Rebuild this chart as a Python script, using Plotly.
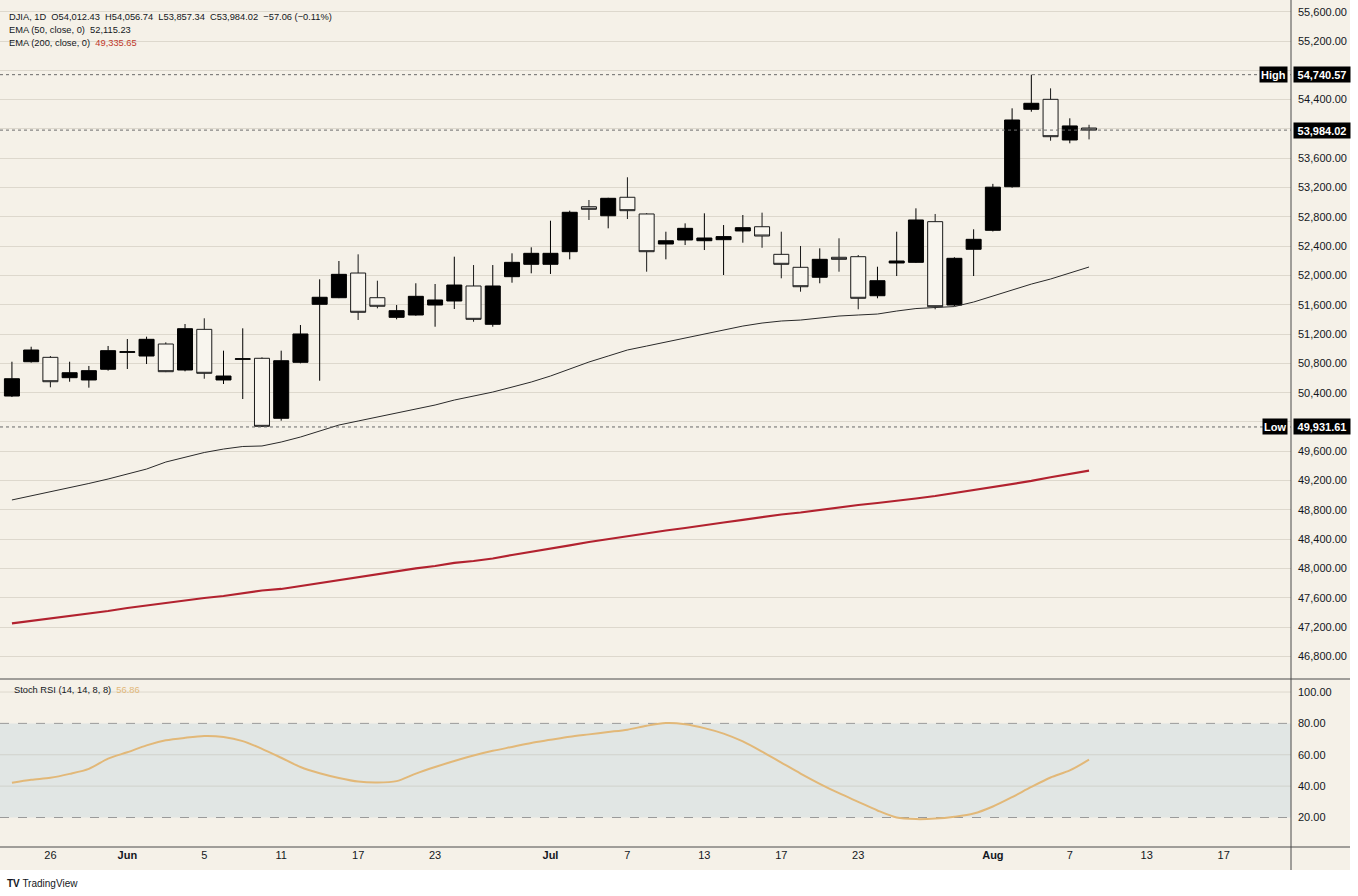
import pandas as pd
import plotly.graph_objects as go

# daily bars, 21 May - 10 Aug (Memorial Day skipped)
dates = [d for d in pd.bdate_range("2026-05-21", "2026-08-10") if d != pd.Timestamp("2026-05-25")]

opens = [50354, 50822, 50882, 50604, 50573, 50719, 50950, 50900, 51064, 50709,
         51264, 50573, 50855, 50869, 50050, 50814, 51606, 51696, 52033, 51696,
         51428, 51460, 51596, 51651, 51856, 51333, 51983, 52152, 52152, 52324,
         52938, 52815, 53067, 52839, 52429, 52484, 52474, 52488, 52607, 52665,
         52288, 52111, 51975, 52248, 52256, 51723, 52170, 52179, 52734, 51596,
         52357, 52616, 53211, 54268, 54404, 53849, 54012.43]
highs = [50822, 51027, 50900, 50822, 50764, 51037, 51132, 51164, 51087, 51337,
         51415, 50973, 51278, 50882, 50973, 51323, 51947, 52197, 52288, 51928,
         51596, 51893, 51883, 52256, 52142, 52142, 52302, 52384, 52747, 52884,
         53030, 53060, 53340, 52850, 52597, 52711, 52848, 52688, 52825, 52857,
         52597, 52402, 52370, 52507, 52279, 52119, 52597, 52916, 52839, 52248,
         52630, 53250, 54281, 54740.57, 54554, 54145, 54056.74]
lows = [50340, 50810, 50473, 50549, 50468, 50700, 50723, 50791, 50680, 50691,
        50590, 50518, 50313, 49931.61, 50017, 50800, 50563, 51690, 51392, 51551,
        51401, 51450, 51300, 51542, 51368, 51300, 51901, 52029, 52020, 52220,
        52757, 52643, 52770, 52051, 52220, 52415, 52347, 52006, 52447, 52378,
        51961, 51778, 51893, 52051, 51538, 51688, 51992, 52170, 51538, 51582,
        51992, 52600, 53198, 54235, 53839, 53804, 53857.34]
closes = [50590, 50982, 50549, 50672, 50700, 50973, 50958, 51128, 50686, 51273,
          50664, 50627, 50862, 49940, 50836, 51201, 51702, 52015, 51497, 51579,
          51519, 51715, 51665, 51869, 51401, 51856, 52179, 52302, 52302, 52862,
          52903, 53053, 52884, 52324, 52474, 52643, 52511, 52530, 52652, 52538,
          52152, 51846, 52220, 52220, 51688, 51928, 52197, 52757, 51573, 52234,
          52493, 53205, 54122, 54350, 53894, 54041, 53984.02]

ema50 = [48935, 48990, 49044, 49105, 49160, 49221, 49289, 49357, 49453, 49521,
         49583, 49630, 49665, 49672, 49726, 49794, 49876, 49958, 50013, 50067,
         50122, 50176, 50231, 50299, 50354, 50408, 50476, 50545, 50627, 50722,
         50818, 50900, 50982, 51036, 51091, 51146, 51200, 51255, 51309, 51350,
         51378, 51391, 51418, 51446, 51460, 51473, 51514, 51548, 51562, 51575,
         51637, 51719, 51800, 51882, 51951, 52033, 52115.23]
ema200 = [47250, 47283, 47317, 47351, 47385, 47419, 47460, 47495, 47529, 47563,
          47597, 47624, 47658, 47699, 47720, 47761, 47802, 47843, 47877, 47918,
          47966, 48000, 48034, 48075, 48102, 48136, 48184, 48225, 48266, 48314,
          48361, 48402, 48443, 48477, 48518, 48552, 48593, 48627, 48662, 48703,
          48737, 48764, 48798, 48839, 48866, 48894, 48921, 48955, 48989, 49030,
          49071, 49112, 49150, 49195, 49245, 49290, 49335.65]
stoch_rsi = [42.2, 44.1, 45.3, 47.8, 51.0, 57.5, 61.6, 66.0, 69.2, 70.8,
             71.9, 71.3, 68.7, 63.8, 58.1, 52.2, 48.2, 45.2, 42.9, 42.3,
             43.2, 48.0, 52.2, 56.0, 59.5, 62.5, 65.0, 67.5, 69.5, 71.5,
             73.0, 74.5, 76.0, 78.5, 80.2, 79.5, 77.0, 73.5, 68.5, 62.0,
             55.0, 48.0, 41.5, 35.5, 30.0, 24.5, 20.0, 19.0, 19.3, 20.5,
             22.5, 27.0, 33.0, 39.5, 45.5, 50.0, 56.86]

tick_dates = ["2026-05-26", "2026-06-01", "2026-06-05", "2026-06-11", "2026-06-17",
              "2026-06-23", "2026-07-01", "2026-07-07", "2026-07-13", "2026-07-17",
              "2026-07-23", "2026-08-03", "2026-08-07", "2026-08-13", "2026-08-17"]
tick_text = ["26", "<b>Jun</b>", "5", "11", "17", "23", "<b>Jul</b>", "7", "13", "17",
             "23", "<b>Aug</b>", "7", "13", "17"]

price_ticks = list(range(46800, 55601, 400))
hidden_ticks = [54800, 54000, 50000]   # covered by the price tags

high_val, low_val, last_val = 54740.57, 49931.61, 53984.02

BG = "#F5F1E8"
GRID = "#DDD8CD"
INK = "#131722"
FONT = "Liberation Sans, Arial, sans-serif"

# bar index as x (trading-day spacing), future days projected on calendar days
x = list(range(len(dates)))
idx = {d: i for i, d in enumerate(dates)}


def pos(d):
    d = pd.Timestamp(d)
    if d in idx:
        return idx[d]
    return len(dates) - 1 + (d - dates[-1]).days


tick_pos = [pos(d) for d in tick_dates]
price_text = ["" if v in hidden_ticks else f"{v:,.2f}" for v in price_ticks]

fig = go.Figure()

fig.add_trace(go.Candlestick(
    x=x, open=opens, high=highs, low=lows, close=closes,
    increasing=dict(line=dict(color="#000000", width=1), fillcolor="#000000"),
    decreasing=dict(line=dict(color="#1a1a1a", width=1), fillcolor="#F8F5EE"),
    whiskerwidth=0, hoverinfo="skip", xaxis="x", yaxis="y"))
fig.add_trace(go.Scatter(x=x, y=ema50, mode="lines", line=dict(color="#2a2a2a", width=1),
                         hoverinfo="skip", xaxis="x", yaxis="y"))
fig.add_trace(go.Scatter(x=x, y=ema200, mode="lines", line=dict(color="#B2222F", width=2.2),
                         hoverinfo="skip", xaxis="x", yaxis="y"))
fig.add_trace(go.Scatter(x=x, y=stoch_rsi, mode="lines",
                         line=dict(color="#E2B878", width=2, shape="spline", smoothing=0.8),
                         hoverinfo="skip", xaxis="x", yaxis="y2"))

split = 168 / 847
right_edge = 1350 / 1291
bottom_edge = -23 / 847

shapes = [
    # panel background incl. price scale and time scale
    dict(type="rect", xref="paper", yref="paper", x0=0, x1=right_edge, y0=bottom_edge, y1=1,
         fillcolor=BG, line_width=0, layer="below"),
    # stoch band
    dict(type="rect", xref="x domain", yref="y2", x0=0, x1=1, y0=20, y1=80,
         fillcolor="#E1E6E4", line_width=0, layer="below"),
]
for lvl in [40, 60, 100]:
    shapes.append(dict(type="line", xref="x domain", yref="y2", x0=0, x1=1, y0=lvl, y1=lvl,
                       line=dict(color="#D0D2CC" if lvl < 100 else GRID, width=1), layer="below"))
for lvl in [20, 80]:
    shapes.append(dict(type="line", xref="x domain", yref="y2", x0=0, x1=1, y0=lvl, y1=lvl,
                       line=dict(color="#9A9A9A", width=1, dash="dash"), layer="below"))
for lvl in [high_val, low_val, last_val]:
    shapes.append(dict(type="line", xref="x domain", yref="y", x0=0, x1=1, y0=lvl, y1=lvl,
                       line=dict(color="#6a6a6a", width=1, dash="dot")))
shapes += [
    dict(type="line", xref="paper", yref="paper", x0=0, x1=right_edge, y0=split, y1=split,
         line=dict(color="#4a4a4a", width=1)),
    dict(type="line", xref="paper", yref="paper", x0=0, x1=right_edge, y0=0, y1=0,
         line=dict(color="#4a4a4a", width=1)),
    dict(type="line", xref="paper", yref="paper", x0=1, x1=1, y0=bottom_edge, y1=1,
         line=dict(color="#4a4a4a", width=1)),
]

sp = "\u00a0"
txt_font = dict(family=FONT, size=9.3, color=INK)
annotations = [
    dict(xref="paper", yref="paper", x=0, y=1, xanchor="left", yanchor="middle", xshift=7, yshift=-17,
         showarrow=False, font=txt_font,
         text=f"DJIA, 1D{sp*2}O54,012.43{sp*2}H54,056.74{sp*2}L53,857.34{sp*2}C53,984.02{sp*2}−57.06 (−0.11%)"),
    dict(xref="paper", yref="paper", x=0, y=1, xanchor="left", yanchor="middle", xshift=7, yshift=-30,
         showarrow=False, font=txt_font, text=f"EMA (50, close, 0){sp*2}52,115.23"),
    dict(xref="paper", yref="paper", x=0, y=1, xanchor="left", yanchor="middle", xshift=7, yshift=-43,
         showarrow=False, font=txt_font,
         text=f"EMA (200, close, 0){sp*2}<span style='color:#C0392B'>49,335.65</span>"),
    dict(xref="paper", yref="paper", x=0, y=split, xanchor="left", yanchor="middle", xshift=12, yshift=-11,
         showarrow=False, font=txt_font,
         text=f"Stoch RSI (14, 14, 8, 8){sp*2}<span style='color:#E2B878'>56.86</span>"),
    dict(xref="paper", yref="paper", x=0, y=bottom_edge, xanchor="left", yanchor="top", xshift=5, yshift=-6,
         showarrow=False, font=dict(family=FONT, size=10, color=INK),
         text="<b>TV</b> TradingView"),
]
box_font = dict(family=FONT, size=11, color="#FFFFFF")
for lvl, tag in [(high_val, "High"), (low_val, "Low"), (last_val, None)]:
    annotations.append(dict(xref="paper", yref="y", x=1, y=lvl, xanchor="left", yanchor="middle",
                            xshift=2, showarrow=False, bgcolor="#000000", font=box_font,
                            width=54, height=13, text=f"<b>{lvl:,.2f}</b>"))
    if tag:
        annotations.append(dict(xref="paper", yref="y", x=1, y=lvl, xanchor="right", yanchor="middle",
                                xshift=-3, showarrow=False, bgcolor="#000000", font=box_font,
                                height=13, text=f"<b>{tag}</b>"))

axis_font = dict(family=FONT, size=11, color=INK)
fig.update_layout(
    width=1358, height=896,
    margin=dict(l=0, r=67, t=0, b=49),
    paper_bgcolor="#FFFFFF", plot_bgcolor="rgba(0,0,0,0)",
    showlegend=False, boxgap=0.22, boxgroupgap=0,
    shapes=shapes, annotations=annotations,
    xaxis=dict(domain=[0, 1], anchor="y2", range=[-0.62, 66.5],
               tickvals=tick_pos, ticktext=tick_text, tickfont=axis_font,
               showgrid=False, zeroline=False, showline=False, ticks="",
               rangeslider=dict(visible=False), fixedrange=True),
    yaxis=dict(domain=[split, 1], anchor="x", side="right", range=[46491, 55760],
               tickvals=price_ticks, ticktext=price_text,
               tickfont=axis_font, gridcolor=GRID, gridwidth=1, zeroline=False,
               showline=False, ticks="", ticklabelstandoff=6),
    yaxis2=dict(domain=[0, split], anchor="x", side="right", range=[1.2, 108.3],
                tickvals=[20, 40, 60, 80, 100], tickformat=".2f", tickfont=axis_font,
                showgrid=False, zeroline=False, showline=False, ticks="", ticklabelstandoff=6),
)

fig.write_html("out.html", config={"displayModeBar": False},
               post_script="document.body.style.margin='0';")
